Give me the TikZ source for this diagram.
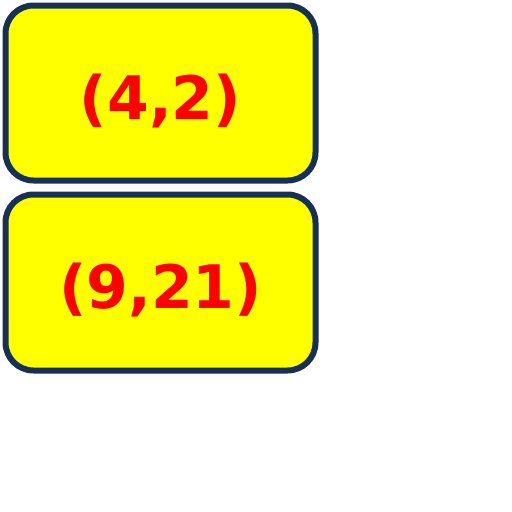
\documentclass[tikz,border=0pt]{standalone}
\usepackage{fontspec}
\setmainfont{DejaVu Sans}
\definecolor{navy}{RGB}{23,48,86}
\definecolor{boxfill}{RGB}{255,255,0}
\definecolor{txtred}{RGB}{255,0,0}
\begin{document}
\begin{tikzpicture}[x=1pt,y=-1pt,
  cell/.style={draw=navy, line width=6pt, fill=boxfill, rounded corners=28pt,
    minimum width=310pt, inner sep=0pt, text=txtred, text height=58pt, text depth=6pt,
    font=\fontsize{60}{62}\selectfont\bfseries}]
\useasboundingbox (0,0) rectangle (512,512);
\node[cell, minimum height=175pt] (a) at (160.5,93) {(4,2)};
\node[cell, minimum height=176pt] (b) at (160.5,282.5) {(9,21)};
\end{tikzpicture}
\end{document}
